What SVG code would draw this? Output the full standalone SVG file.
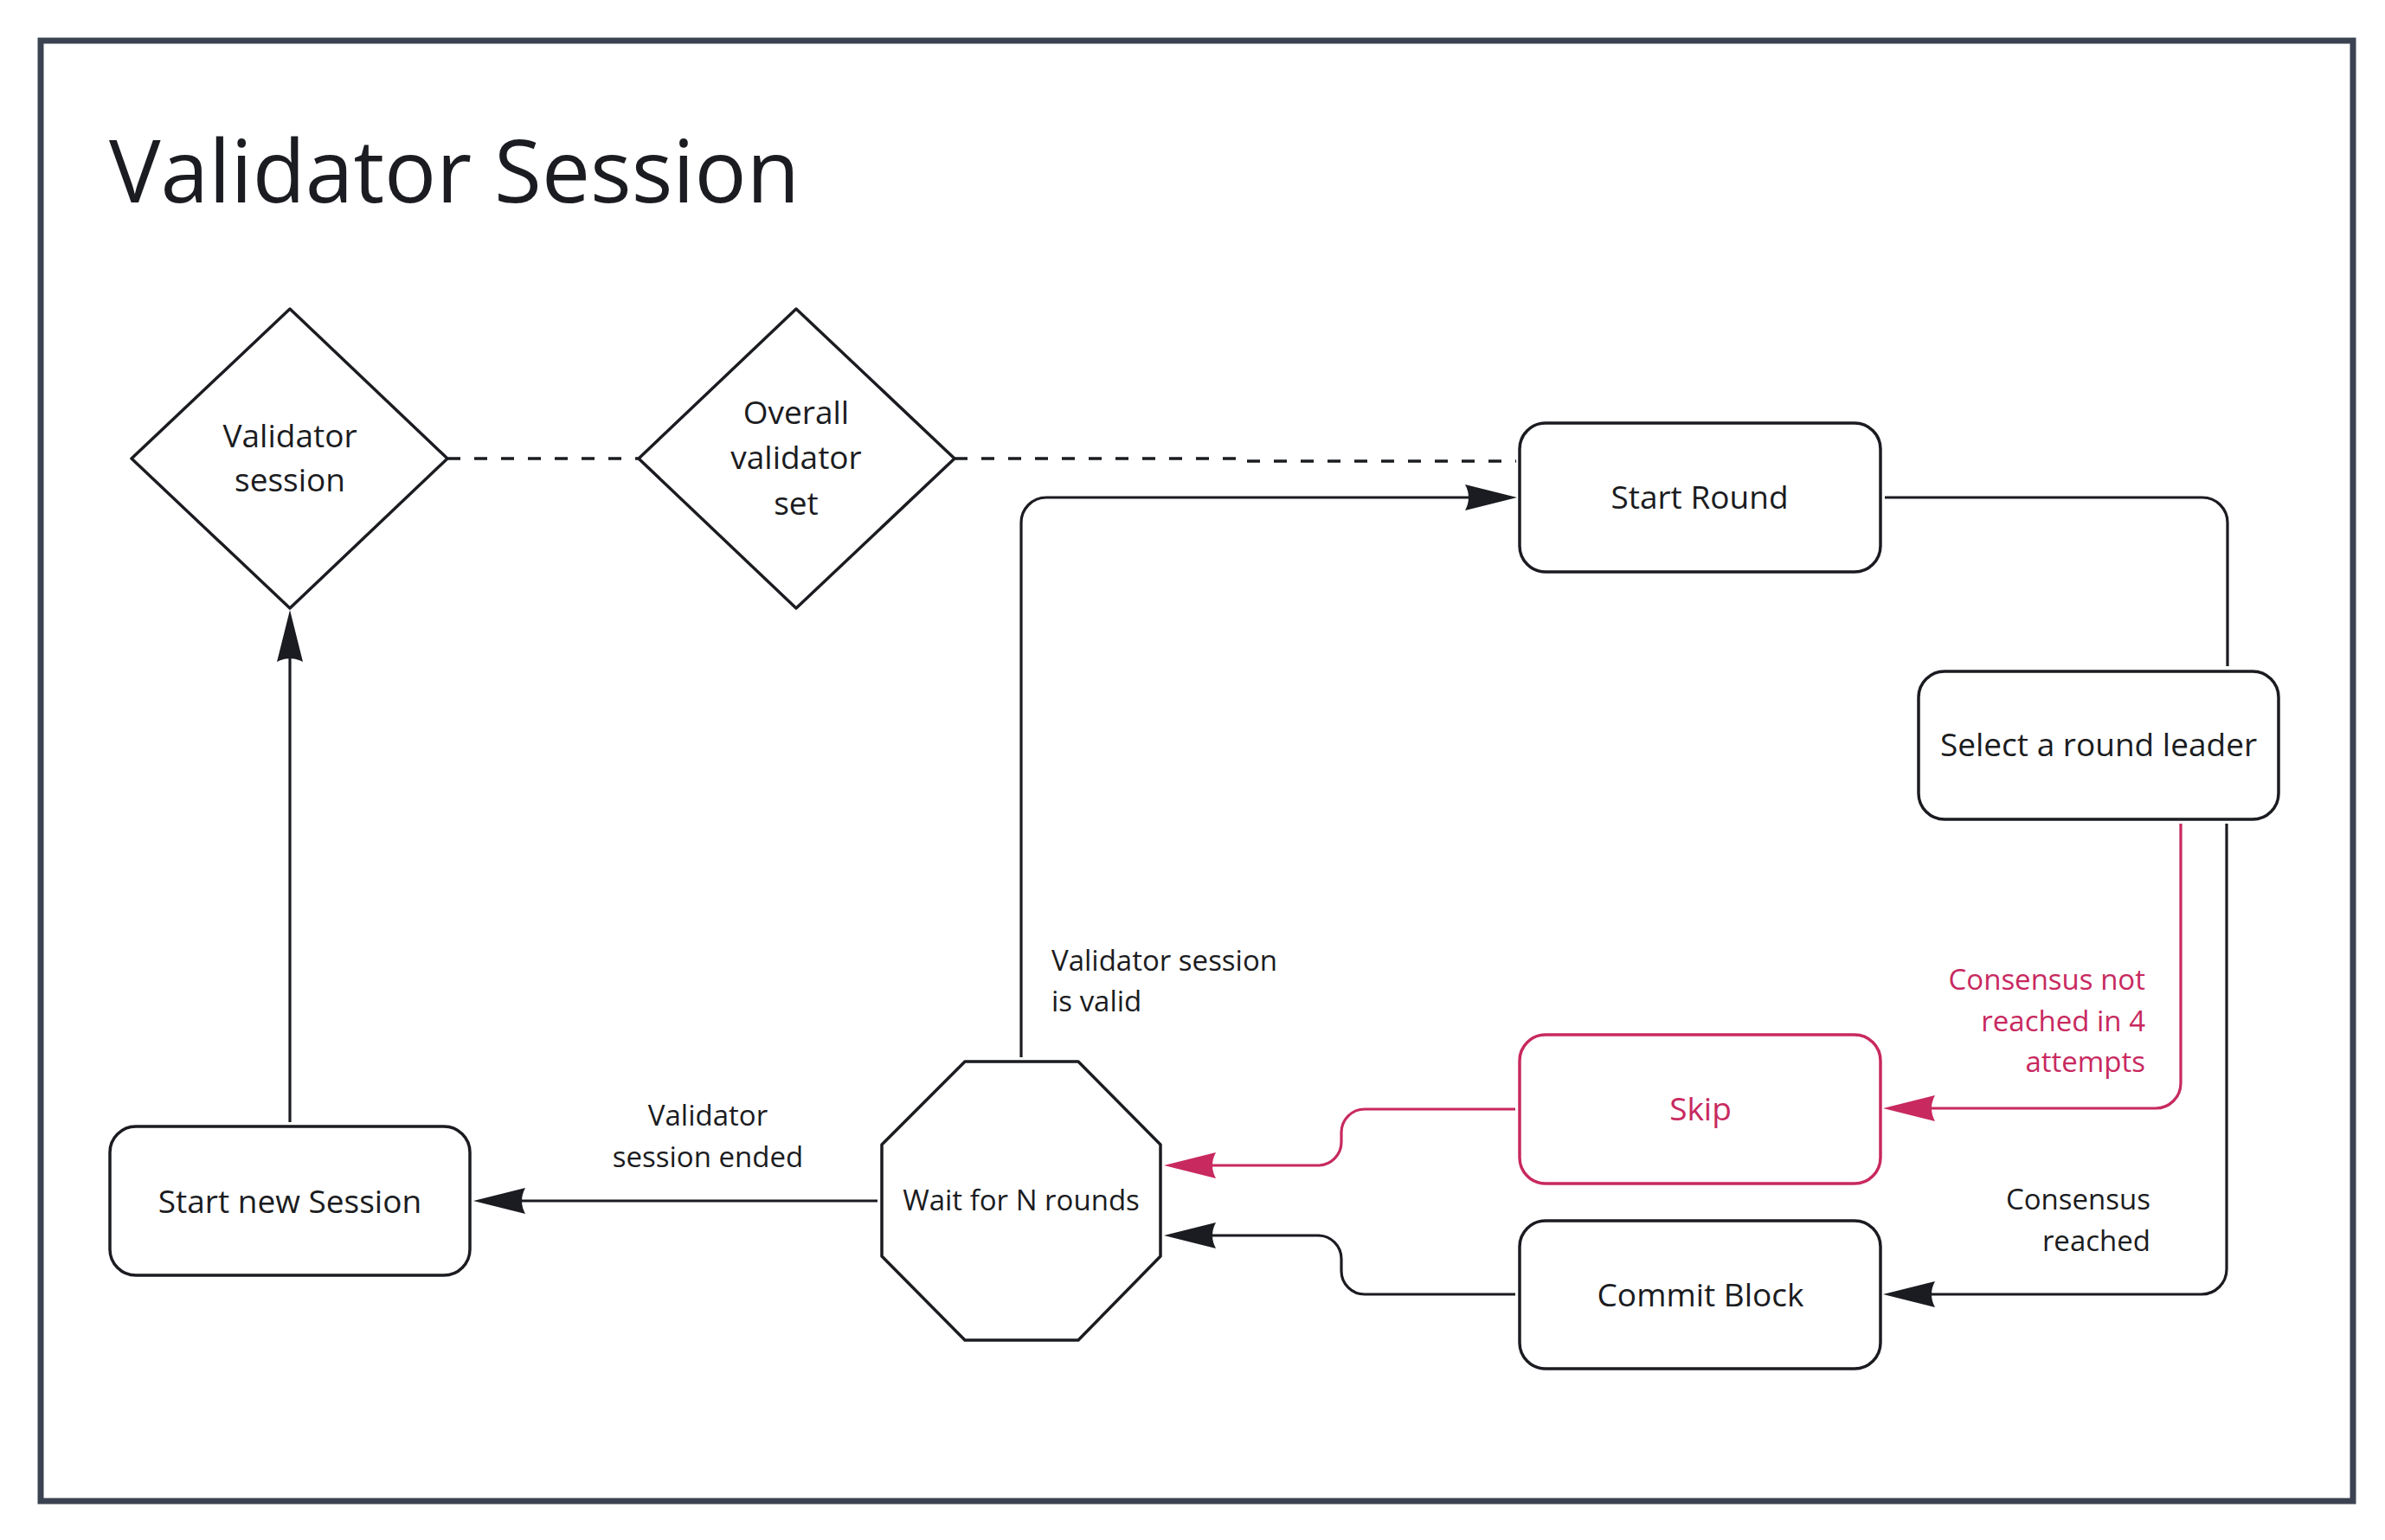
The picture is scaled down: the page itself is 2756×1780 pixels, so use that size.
<svg xmlns="http://www.w3.org/2000/svg" width="2756" height="1780" viewBox="0 0 2756 1780">
<style>
text{font-family:"Open Sans","Noto Sans","Liberation Sans",sans-serif;fill:#1b1c21}
.node{fill:#ffffff;stroke:#1b1c21;stroke-width:3.5;stroke-linejoin:round}
.pinknode{fill:#ffffff;stroke:#c8295f;stroke-width:3.5}
.nt{font-size:37px;text-anchor:middle}
.ot{font-size:33px;text-anchor:middle}
.lbl{font-size:33px}
.pinkt{fill:#c8295f}
.c{fill:none;stroke:#1b1c21;stroke-width:3.2}
.cp{fill:none;stroke:#c8295f;stroke-width:3.2}
.dash{fill:none;stroke:#1b1c21;stroke-width:3.5;stroke-dasharray:15 16}
</style>
<defs>
<marker id="ah" markerUnits="userSpaceOnUse" markerWidth="64" markerHeight="34" viewBox="-2 -17 64 34" refX="8" refY="0" orient="auto">
<path d="M60,0 L0,-15 Q8,0 0,15 Z" fill="#1b1c21"/>
</marker>
<marker id="ahp" markerUnits="userSpaceOnUse" markerWidth="64" markerHeight="34" viewBox="-2 -17 64 34" refX="8" refY="0" orient="auto">
<path d="M60,0 L0,-15 Q8,0 0,15 Z" fill="#c8295f"/>
</marker>
</defs>
<rect x="0" y="0" width="2756" height="1780" fill="#ffffff"/>
<rect x="47" y="47" width="2672" height="1688" fill="none" stroke="#3b4251" stroke-width="7"/>
<text x="126" y="234" style="font-size:100px">Validator Session</text>

<g id="connectors">
<path class="dash" d="M517,530 H738"/>
<path class="dash" d="M1103,530 H1433"/>
<path class="dash" d="M1441,533 H1752"/>
<path class="c" d="M1180,1222 V604 A29,29 0 0 1 1209,575 H1701" marker-end="url(#ah)"/>
<path class="c" d="M1014,1388 H599" marker-end="url(#ah)"/>
<path class="c" d="M335,1297 V757" marker-end="url(#ah)"/>
<path class="c" d="M2178,575 H2545 A29,29 0 0 1 2574,604 V770"/>
<path class="cp" d="M2520,952 V1252 A29,29 0 0 1 2491,1281 H2228" marker-end="url(#ahp)"/>
<path class="c" d="M2573,952 V1467 A29,29 0 0 1 2544,1496 H2228" marker-end="url(#ah)"/>
<path class="cp" d="M1751,1282 H1577 A27,27 0 0 0 1550,1309 V1320 A27,27 0 0 1 1523,1347 H1397" marker-end="url(#ahp)"/>
<path class="c" d="M1751,1496 H1577 A27,27 0 0 1 1550,1469 V1455 A27,27 0 0 0 1523,1428 H1397" marker-end="url(#ah)"/>
<text class="lbl" x="1215" y="1122">Validator session</text>
<text class="lbl" x="1215" y="1169">is valid</text>
<text class="lbl" x="818" y="1301" text-anchor="middle">Validator</text>
<text class="lbl" x="818" y="1349" text-anchor="middle">session ended</text>
<text class="lbl pinkt" x="2479" y="1144" text-anchor="end">Consensus not</text>
<text class="lbl pinkt" x="2479" y="1192" text-anchor="end">reached in 4</text>
<text class="lbl pinkt" x="2479" y="1239" text-anchor="end">attempts</text>
<text class="lbl" x="2485" y="1398" text-anchor="end">Consensus</text>
<text class="lbl" x="2485" y="1446" text-anchor="end">reached</text>
</g>

<g id="validator-session">
<polygon class="node" points="335,357 517,530 335,703 152,530"/>
<text class="nt" x="335" y="517">Validator</text>
<text class="nt" x="335" y="568">session</text>
</g>
<g id="overall-validator-set">
<polygon class="node" points="920,357 1103,530 920,703 738,530"/>
<text class="nt" x="920" y="490">Overall</text>
<text class="nt" x="920" y="542">validator</text>
<text class="nt" x="920" y="595">set</text>
</g>
<g id="start-round">
<rect class="node" x="1756" y="489" width="417" height="172" rx="30"/>
<text class="nt" x="1964" y="588">Start Round</text>
</g>
<g id="select-leader">
<rect class="node" x="2217" y="776" width="416" height="171" rx="30"/>
<text class="nt" x="2425" y="874">Select a round leader</text>
</g>
<g id="skip">
<rect class="pinknode" x="1756" y="1196" width="417" height="172" rx="30"/>
<text class="nt pinkt" x="1965" y="1295">Skip</text>
</g>
<g id="commit-block">
<rect class="node" x="1756" y="1411" width="417" height="171" rx="30"/>
<text class="nt" x="1965" y="1510">Commit Block</text>
</g>
<g id="wait-n-rounds">
<polygon class="node" points="1115,1227 1246,1227 1341,1323 1341,1452 1246,1549 1115,1549 1019,1452 1019,1323"/>
<text class="ot" x="1180" y="1399">Wait for N rounds</text>
</g>
<g id="start-new-session">
<rect class="node" x="127" y="1302" width="416" height="172" rx="30"/>
<text class="nt" x="335" y="1402">Start new Session</text>
</g>
</svg>
